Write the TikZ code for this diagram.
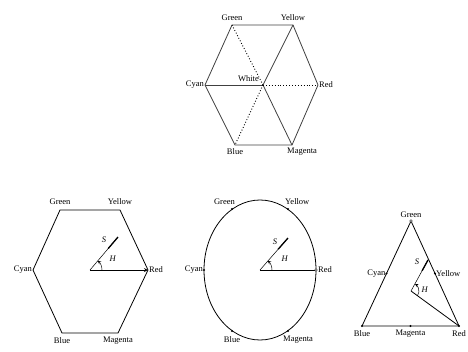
\documentclass[tikz,border=0pt]{standalone}
\usepackage{fontspec}
\setmainfont{Liberation Serif}
\usetikzlibrary{calc,positioning}
\begin{document}
\begin{tikzpicture}[x=1pt, y=-1pt, >=stealth,
  lbl/.style={font=\fontsize{8.5}{9}\selectfont, inner sep=1pt},
  edge/.style={line width=0.8pt},
  hidden/.style={dotted, line width=0.9pt},
  svec/.style={line width=0.5pt},
  vdot/.style={circle, fill, inner sep=0pt, minimum size=2.2pt},
  odot/.style={circle, draw, fill=white, inner sep=0pt, minimum size=2.8pt}]
\useasboundingbox (0,0) rectangle (468,351);

% colour cube seen along its grey axis
\coordinate (cG) at (232,25);
\coordinate (cY) at (293,25);
\coordinate (cR) at (318,85);
\coordinate (cM) at (292,145);
\coordinate (cB) at (235,145);
\coordinate (cC) at (205,85);
\coordinate (cW) at (263,85);
\draw[edge, black!75] (cG) -- (cY) -- (cR) -- (cM) -- (cB) -- (cC) -- cycle;
\draw[edge, black!75] (cC) -- (cW);
\draw[edge, black!75] (cW) -- (cY);
\draw[edge, black!75] (cW) -- (cM);
\draw[hidden] (cW) -- (cR);
\draw[hidden] (cW) -- (cG);
\draw[hidden] (cW) -- (cB);
\node[lbl, above=3pt] (cGl) at (cG) {Green};
\node[lbl, above=3pt] (cYl) at (cY) {Yellow};
\node[lbl, left] (cCl) at (cC) {Cyan};
\node[lbl, right] (cRl) at (cR) {Red};
\node[lbl, below=2pt] (cBl) at (cB) {Blue};
\node[lbl, below right=2pt and -6pt] (cMl) at (cM) {Magenta};
\node[lbl, above left=2pt and 3pt] (cWl) at (cW) {White};

% hexagon
\coordinate (hG) at (60,210);
\coordinate (hY) at (120,210);
\coordinate (hR) at (148,270);
\coordinate (hM) at (118,333);
\coordinate (hB) at (62,333);
\coordinate (hC) at (33,270);
\coordinate (hO) at (90,270);
\coordinate (hS) at (118,237);
\draw[edge] (hG) -- (hY) -- (hR) -- (hM) -- (hB) -- (hC) -- cycle;
\draw[edge, ->] (hO) -- (hR);
\draw[svec] (hO) -- (hS);
\draw[line width=1.3pt] ($(hO)!0.65!(hS)$) -- (hS);
\draw[svec, ->] (hO) ++(12,0) arc[start angle=0, end angle=-50, radius=12];
\node[lbl, above=4pt] (hGl) at (hG) {Green};
\node[lbl, above=4pt] (hYl) at (hY) {Yellow};
\node[lbl, left=0pt] (hCl) at (hC) {Cyan};
\node[lbl, right=0pt] (hRl) at (hR) {Red};
\node[lbl, below=3pt] (hBl) at (hB) {Blue};
\node[lbl, below=3pt] (hMl) at (hM) {Magenta};
\node[lbl] (hSl) at (104,240) {\textit{S}};
\node[lbl] (hHl) at (113,259) {\textit{H}};

% ellipse
\coordinate (eO) at (260,270);
\coordinate (eR) at (316,270);
\coordinate (eY) at (288,209);
\coordinate (eG) at (232,209);
\coordinate (eC) at (204,270);
\coordinate (eB) at (232,331);
\coordinate (eM) at (288,331);
\coordinate (eS) at (288,238);
\draw[edge] (eO) ellipse[x radius=56, y radius=70];
\draw[edge] (eO) -- (eR);
\draw[svec] (eO) -- (eS);
\draw[line width=1.3pt] ($(eO)!0.65!(eS)$) -- (eS);
\draw[svec, ->] (eO) ++(12,0) arc[start angle=0, end angle=-50, radius=12];
\node[vdot] (eGd) at (eG) {};
\node[vdot] (eYd) at (eY) {};
\node[vdot] (eCd) at (eC) {};
\node[vdot] (eBd) at (eB) {};
\node[vdot] (eMd) at (eM) {};
\node[odot] (eRd) at (eR) {};
\node[lbl, above left=3pt and -4pt] (eGl) at (eG) {Green};
\node[lbl, above right=3pt and -4pt] (eYl) at (eY) {Yellow};
\node[lbl, left=0pt] (eCl) at (eC) {Cyan};
\node[lbl, right=1pt] (eRl) at (eR) {Red};
\node[lbl, below=4pt] (eBl) at (eB) {Blue};
\node[lbl, below right=4pt and -6pt] (eMl) at (eM) {Magenta};
\node[lbl] (eSl) at (275,242) {\textit{S}};
\node[lbl] (eHl) at (285,259) {\textit{H}};

% triangle
\coordinate (tG) at (411,221);
\coordinate (tB) at (362,326);
\coordinate (tR) at (459,326);
\coordinate (tC) at ($(tG)!0.5!(tB)$);
\coordinate (tY) at ($(tG)!0.5!(tR)$);
\coordinate (tM) at ($(tB)!0.5!(tR)$);
\coordinate (tO) at (411,291);
\coordinate (tS) at (428,260);
\draw[edge] (tG) -- (tR) -- (tB) -- cycle;
\draw[edge] (tO) -- (tR);
\draw[svec] (tO) -- (tS);
\draw[line width=1.3pt] ($(tO)!0.65!(tS)$) -- (tS);
\draw[svec, ->] (tO) ++(36:8) arc[start angle=36, end angle=-60, radius=8];
\node[odot] (tGd) at (tG) {};
\node[vdot] (tCd) at (tC) {};
\node[vdot] (tYd) at (tY) {};
\node[vdot] (tMd) at (tM) {};
\node[vdot] (tBd) at (tB) {};
\node[vdot] (tRd) at (tR) {};
\node[lbl, above=2pt] (tGl) at (tG) {Green};
\node[lbl, left=0pt] (tCl) at (tC) {Cyan};
\node[lbl, right=0pt] (tYl) at (tY) {Yellow};
\node[lbl, below=3pt] (tBl) at (tB) {Blue};
\node[lbl, below=3pt] (tMl) at (tM) {Magenta};
\node[lbl, below right=3pt and -8pt] (tRl) at (tR) {Red};
\node[lbl] (tSl) at (417,262) {\textit{S}};
\node[lbl] (tHl) at (425,290) {\textit{H}};
\end{tikzpicture}
\end{document}
